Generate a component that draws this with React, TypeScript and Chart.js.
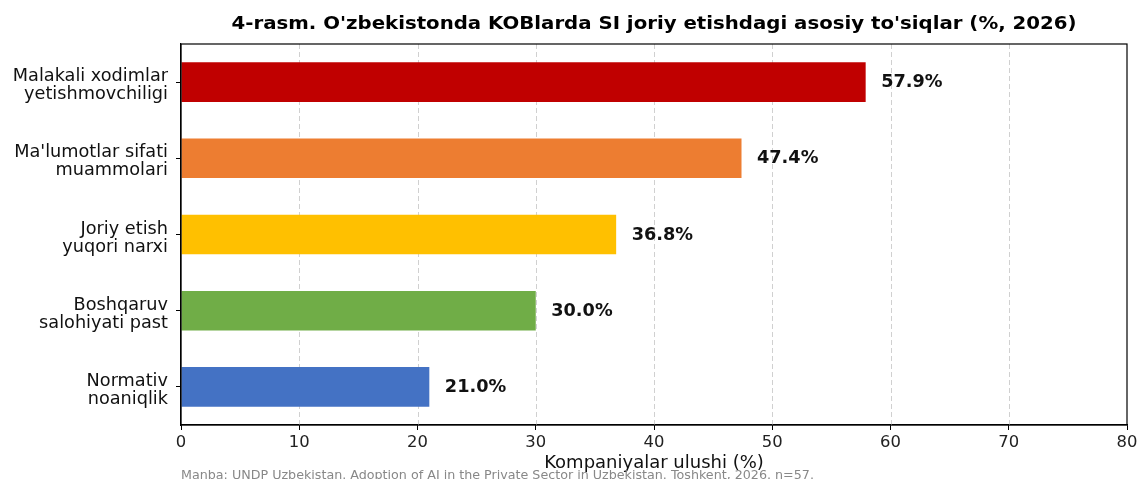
import React, { useEffect, useRef } from "react";
import { Chart, registerables } from "chart.js";

Chart.register(...registerables);

const categories: string[][] = [
  ["Malakali xodimlar", "yetishmovchiligi"],
  ["Ma'lumotlar sifati", "muammolari"],
  ["Joriy etish", "yuqori narxi"],
  ["Boshqaruv", "salohiyati past"],
  ["Normativ", "noaniqlik"],
];
const values: number[] = [57.9, 47.4, 36.8, 30.0, 21.0];
const barColors: string[] = ["#C00000", "#ED7D31", "#FFC000", "#70AD47", "#4472C4"];
const xTicks: number[] = [0, 10, 20, 30, 40, 50, 60, 70, 80];
const titleText = "4-rasm. O'zbekistonda KOBlarda SI joriy etishdagi asosiy to'siqlar (%, 2026)";
const xAxisTitle = "Kompaniyalar ulushi (%)";
const sourceText = "Manba: UNDP Uzbekistan. Adoption of AI in the Private Sector in Uzbekistan. Toshkent, 2026. n=57.";

const FONT = "'DejaVu Sans', sans-serif";

function stretchedText(ctx: CanvasRenderingContext2D, text: string, x: number, y: number, targetWidth: number, align: "left" | "center" | "right") {
  const w = ctx.measureText(text).width;
  const sx = targetWidth / w;
  ctx.save();
  ctx.textAlign = "left";
  let left = x;
  if (align === "center") left = x - targetWidth / 2;
  if (align === "right") left = x - targetWidth;
  ctx.translate(left, y);
  ctx.scale(sx, 1);
  ctx.fillText(text, 0, 0);
  ctx.restore();
}

const decorPlugin = {
  id: "decor",
  beforeDatasetsDraw(chart: any) {
    const { ctx, chartArea, scales } = chart;
    const x = scales.x;
    ctx.save();
    ctx.strokeStyle = "#d0d0d0";
    ctx.lineWidth = 1;
    ctx.setLineDash([5, 3]);
    xTicks.forEach((t) => {
      if (t === 0 || t === 80) return;
      const px = Math.round(x.getPixelForValue(t)) + 0.5;
      ctx.beginPath();
      ctx.moveTo(px, chartArea.top);
      ctx.lineTo(px, chartArea.bottom);
      ctx.stroke();
    });
    ctx.restore();
  },
  afterDatasetsDraw(chart: any) {
    const { ctx, chartArea, scales } = chart;
    ctx.save();
    // frame
    ctx.strokeStyle = "#000";
    ctx.lineWidth = 1.2;
    ctx.strokeRect(chartArea.left, chartArea.top, chartArea.right - chartArea.left, chartArea.bottom - chartArea.top);
    // value labels
    const meta = chart.getDatasetMeta(0);
    ctx.font = `bold 17.7px ${FONT}`;
    ctx.fillStyle = "#111";
    ctx.textBaseline = "middle";
    ctx.textAlign = "left";
    meta.data.forEach((bar: any, i: number) => {
      ctx.fillText(values[i].toFixed(1) + "%", bar.x + 15.5, bar.y + 0.5);
    });
    // y category labels
    ctx.font = `17.7px ${FONT}`;
    ctx.fillStyle = "#111";
    ctx.textAlign = "right";
    ctx.textBaseline = "alphabetic";
    const yScale = scales.y;
    categories.forEach((lines, i) => {
      const cy = yScale.getPixelForValue(i);
      lines.forEach((ln, j) => {
        ctx.fillText(ln, 168, cy - 1 + j * 18);
      });
    });
    // title
    const cx = (chartArea.left + chartArea.right) / 2;
    ctx.textBaseline = "alphabetic";
    ctx.font = `bold 17px ${FONT}`;
    ctx.fillStyle = "#000";
    stretchedText(ctx, titleText, cx, 29, 845, "center");
    // x axis title
    ctx.font = `18px ${FONT}`;
    ctx.fillStyle = "#111";
    ctx.textAlign = "center";
    ctx.fillText(xAxisTitle, cx, 468);
    // source
    ctx.textAlign = "left";
    ctx.font = `12.7px ${FONT}`;
    ctx.fillStyle = "#888";
    ctx.fillText(sourceText, chartArea.left, 479);
    ctx.restore();
  },
};

export default function App() {
  const ref = useRef<HTMLCanvasElement | null>(null);
  useEffect(() => {
    if (!ref.current) return;
    const chart = new Chart(ref.current, {
      type: "bar",
      data: {
        labels: categories,
        datasets: [
          {
            data: values,
            backgroundColor: barColors,
            borderWidth: 0,
            barPercentage: 0.52,
            categoryPercentage: 1,
          },
        ],
      },
      options: {
        indexAxis: "y",
        animation: false,
        responsive: false,
        maintainAspectRatio: false,
        layout: { padding: { top: 44, right: 0, left: 0, bottom: 0 } },
        plugins: { legend: { display: false }, tooltip: { enabled: false }, title: { display: false } },
        scales: {
          x: {
            type: "linear",
            min: 0,
            max: 80,
            afterBuildTicks: (scale: any) => {
              scale.ticks = xTicks.map((v) => ({ value: v }));
            },
            afterFit: (scale: any) => {
              scale.height = 54;
              scale.paddingRight = 10;
            },
            ticks: { font: { family: FONT, size: 16.4 }, color: "#222", padding: 3, maxRotation: 0 },
            grid: { drawOnChartArea: false, drawTicks: true, tickLength: 5, color: "#000", tickColor: "#000" },
            border: { display: true, color: "#000", width: 1.2 },
          },
          y: {
            afterFit: (scale: any) => {
              scale.width = 181;
            },
            ticks: { display: false },
            grid: { drawOnChartArea: false, drawTicks: true, tickLength: 5, color: "#000", tickColor: "#000", offset: false },
            border: { display: true, color: "#000", width: 1.2 },
          },
        },
      },
      plugins: [decorPlugin],
    });
    return () => chart.destroy();
  }, []);
  return (
    <div style={{ position: "absolute", left: 0, top: 0, width: 1137, height: 479, background: "#fff" }}>
      <canvas ref={ref} width={1137} height={479} style={{ width: 1137, height: 479, display: "block" }} />
    </div>
  );
}
